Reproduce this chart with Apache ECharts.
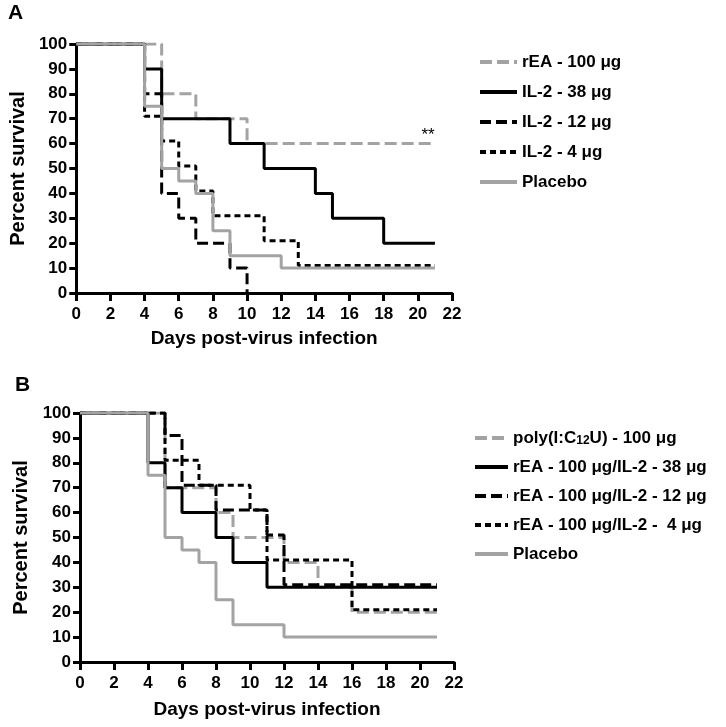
<!DOCTYPE html>
<html>
<head>
<meta charset="utf-8">
<script src="https://cdn.jsdelivr.net/npm/echarts@6/dist/echarts.min.js"></script>
<style>
html,body{margin:0;padding:0;background:#fff;}
#chart{width:726px;height:727px;}
</style>
</head>
<body>
<div id="chart"></div>
<script>
// ---------- Data ----------
const xTicks = [0, 22, 2];   // min, max, interval (days)
const yTicks = [0, 100, 10]; // min, max, interval (%)

// Panel A
const aNames = ['rEA - 100 μg', 'IL-2 - 38 μg', 'IL-2 - 12 μg', 'IL-2 - 4 μg', 'Placebo'];
const aDays_rEA   = [0, 5, 7, 10, 21];
const aSurv_rEA   = [100, 80, 70, 60, 60];
const aDays_il38  = [0, 4, 5, 9, 11, 14, 15, 18, 21];
const aSurv_il38  = [100, 90, 70, 60, 50, 40, 30, 20, 20];
const aDays_il12  = [0, 4, 5, 6, 7, 9, 10];
const aSurv_il12  = [100, 80, 40, 30, 20, 10, 0];
const aDays_il4   = [0, 4, 5, 6, 7, 8, 11, 13, 21];
const aSurv_il4   = [100, 71, 61, 51, 41, 31, 21, 11, 11];
const aDays_plac  = [0, 4, 5, 6, 7, 8, 9, 12, 21];
const aSurv_plac  = [100, 75, 50, 45, 40, 25, 15, 10, 10];
const aSignif = {text: '**', day: 20.6, surv: 63.5};

// Panel B
const bNames = ['poly(I:C12U) - 100 μg', 'rEA - 100 μg/IL-2 - 38 μg', 'rEA - 100 μg/IL-2 - 12 μg', 'rEA - 100 μg/IL-2 -  4 μg', 'Placebo'];
const bDays_poly  = [0, 5, 8, 9, 12, 14, 16, 21];
const bSurv_poly  = [100, 70, 60, 50, 40, 30, 20, 20];
const bDays_r38   = [0, 4, 5, 6, 8, 9, 11, 21];
const bSurv_r38   = [100, 80, 70, 60, 50, 40, 30, 30];
const bDays_r12   = [0, 5, 6, 8, 11, 12, 21];
const bSurv_r12   = [100, 91, 71, 61, 51, 31, 31];
const bDays_r4    = [0, 5, 7, 10, 11, 16, 21];
const bSurv_r4    = [100, 81, 71, 61, 41, 21, 21];
const bDays_plac  = [0, 4, 5, 6, 7, 8, 9, 12, 21];
const bSurv_plac  = [100, 75, 50, 45, 40, 25, 15, 10, 10];

const xTitle = 'Days post-virus infection';
const yTitle = 'Percent survival';

// ---------- Build ----------
const FONT = 'Liberation Sans, Arial, sans-serif';
const GRAY = '#a3a3a3';
const styles = [
  {color: GRAY, type: [12, 5]},
  {color: '#000', type: 'solid'},
  {color: '#000', type: [11, 5]},
  {color: '#000', type: [6, 4]},
  {color: GRAY, type: 'solid'}
];
function zip(d, s) { return d.map((v, i) => [v, s[i]]); }

function mkSeries(name, days, surv, st, idx, extra) {
  return Object.assign({
    type: 'line', name: name, step: 'end',
    xAxisIndex: idx, yAxisIndex: idx,
    data: zip(days, surv),
    symbol: 'none', showSymbol: false,
    lineStyle: {color: st.color, width: 3, type: st.type},
    itemStyle: {color: st.color},
    animation: false, silent: true
  }, extra || {});
}

function mkX(idx) {
  return {
    type: 'value', gridIndex: idx, min: xTicks[0], max: xTicks[1], interval: xTicks[2],
    name: xTitle, nameLocation: 'middle', nameGap: idx === 0 ? 36 : 38,
    nameTextStyle: {fontFamily: FONT, fontWeight: 'bold', fontSize: 19, color: '#000'},
    axisLine: {show: true, lineStyle: {color: '#000', width: 3}},
    axisTick: {show: true, length: 8, lineStyle: {color: '#000', width: 3}},
    axisLabel: {fontFamily: FONT, fontWeight: 'bold', fontSize: 17, color: '#000', margin: 13},
    splitLine: {show: false}
  };
}
function mkY(idx) {
  return {
    type: 'value', gridIndex: idx, min: yTicks[0], max: yTicks[1], interval: yTicks[2],
    name: yTitle, nameLocation: 'middle', nameGap: 45, nameRotate: 90,
    nameTextStyle: {fontFamily: FONT, fontWeight: 'bold', fontSize: 20, color: '#000'},
    axisLine: {show: true, lineStyle: {color: '#000', width: 3}},
    axisTick: {show: true, length: 7, lineStyle: {color: '#000', width: 3}},
    axisLabel: {fontFamily: FONT, fontWeight: 'bold', fontSize: 17, color: '#000', margin: 9},
    splitLine: {show: false}
  };
}

const chart = echarts.init(document.getElementById('chart'), null, {renderer: 'canvas'});

const series = [
  mkSeries(aNames[0], aDays_rEA, aSurv_rEA, styles[0], 0, {
    markPoint: {
      symbol: 'circle', symbolSize: 0, silent: true,
      label: {show: true, position: 'inside', formatter: aSignif.text, fontFamily: FONT, fontSize: 17, color: '#000'},
      data: [{coord: [aSignif.day, aSignif.surv]}]
    }
  }),
  mkSeries(aNames[1], aDays_il38, aSurv_il38, styles[1], 0),
  mkSeries(aNames[2], aDays_il12, aSurv_il12, styles[2], 0),
  mkSeries(aNames[3], aDays_il4, aSurv_il4, styles[3], 0),
  mkSeries(aNames[4], aDays_plac, aSurv_plac, styles[4], 0),
  mkSeries(bNames[0], bDays_poly, bSurv_poly, styles[0], 1),
  mkSeries(bNames[1], bDays_r38, bSurv_r38, styles[1], 1),
  mkSeries(bNames[2], bDays_r12, bSurv_r12, styles[2], 1),
  mkSeries(bNames[3], bDays_r4, bSurv_r4, styles[3], 1),
  mkSeries(bNames[4], bDays_plac, bSurv_plac, styles[4], 1)
];

const legendText = {fontFamily: FONT, fontWeight: 'bold', fontSize: 17, color: '#000', lineHeight: 18,
  rich: {
    b: {fontFamily: FONT, fontWeight: 'bold', fontSize: 17, color: '#000', lineHeight: 18},
    sub: {fontFamily: FONT, fontWeight: 'bold', fontSize: 12, color: '#000', lineHeight: 18, verticalAlign: 'bottom', padding: [8, 0, 0, 0]}
  }
};

chart.setOption({
  backgroundColor: '#fff',
  animation: false,
  title: [
    {text: 'A', left: 8, top: 3, padding: 0, textStyle: {fontFamily: FONT, fontWeight: 'bold', fontSize: 21, color: '#000'}},
    {text: 'B', left: 15, top: 375, padding: 0, textStyle: {fontFamily: FONT, fontWeight: 'bold', fontSize: 21, color: '#000'}}
  ],
  grid: [
    {left: 76, top: 44, width: 376, height: 249},
    {left: 80, top: 413, width: 374, height: 249}
  ],
  xAxis: [mkX(0), mkX(1)],
  yAxis: [mkY(0), mkY(1)],
  legend: [
    {
      orient: 'vertical', left: 478, top: 53, padding: 0, itemWidth: 37, itemHeight: 14, itemGap: 12,
      itemTextGap: 6, selectedMode: false, data: aNames, textStyle: legendText,
      itemStyle: {opacity: 0, borderWidth: 0}, lineStyle: {width: 4}
    },
    {
      orient: 'vertical', left: 473, top: 427, padding: 0, itemWidth: 33, itemHeight: 14, itemGap: 11,
      itemTextGap: 9, selectedMode: false, data: bNames, textStyle: legendText,
      itemStyle: {opacity: 0, borderWidth: 0}, lineStyle: {width: 4},
      formatter: function (n) {
        if (n.indexOf('C12U') >= 0) {
          const p = n.split('C12U');
          return '{b|' + p[0] + 'C}{sub|12}{b|U' + p[1] + '}';
        }
        return '{b|' + n + '}';
      }
    }
  ],
  series: series
});
</script>
</body>
</html>
